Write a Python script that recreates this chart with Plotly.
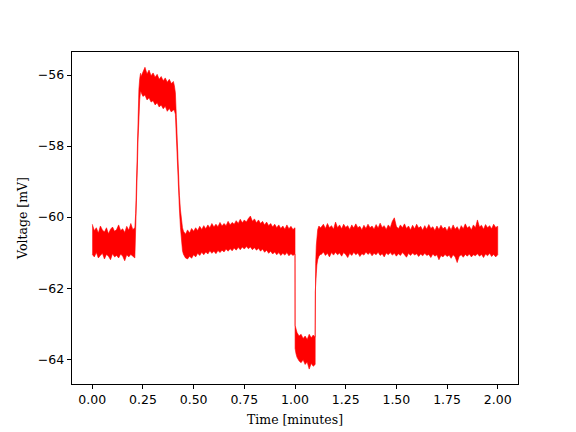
import plotly.graph_objects as go

# ---- data (envelope of the noisy voltage trace, mV) ----
# Segment 1: baseline before the depolarising step, sampled every 0.01 min from 0.00
seg1_t0, seg1_dt = 0.00, 0.01
seg1_up = [-60.20, -60.38, -60.30, -60.45, -60.25, -60.36, -60.42, -60.30, -60.47, -60.34, -60.28,
           -60.40, -60.35, -60.22, -60.38, -60.33, -60.43, -60.26, -60.37, -60.18, -60.35, -60.30]
seg1_lo = [-61.05, -61.12, -61.00, -61.15, -61.08, -61.02, -61.18, -61.05, -61.10, -61.20, -61.03,
           -61.12, -61.08, -61.15, -61.04, -61.10, -61.23, -61.06, -61.12, -61.05, -61.10, -61.15]

# Rise
rise_t = [0.214, 0.218, 0.222, 0.226, 0.230, 0.234, 0.238]
rise_up = [-59.90, -58.90, -57.90, -57.00, -56.40, -56.10, -55.95]
rise_lo = [-60.90, -59.80, -58.70, -57.80, -57.10, -56.70, -56.45]

# Plateau, every 0.01 from 0.24
plat_t0, plat_dt = 0.24, 0.01
plat_up = [-56.05, -55.92, -55.78, -55.97, -55.86, -56.02, -55.94, -56.06, -55.98, -56.12, -56.04,
           -56.16, -56.08, -56.20, -56.12, -56.24, -56.18]
plat_lo = [-56.48, -56.60, -56.56, -56.70, -56.64, -56.76, -56.72, -56.84, -56.78, -56.90, -56.84,
           -56.95, -56.88, -57.02, -56.94, -57.04, -56.98]

# Fall
fall_t = [0.405, 0.410, 0.415, 0.420, 0.425, 0.430, 0.435, 0.440, 0.445, 0.450]
fall_up = [-56.30, -56.50, -57.20, -58.00, -58.80, -59.40, -59.80, -60.10, -60.30, -60.40]
fall_lo = [-57.00, -57.10, -57.70, -58.50, -59.20, -59.80, -60.30, -60.70, -60.95, -61.05]

# Segment 2: baseline, every 0.01 from 0.46 to 1.00
seg2_t0, seg2_dt = 0.46, 0.01
seg2_up = [-60.48, -60.36, -60.45, -60.32, -60.40, -60.30, -60.38, -60.26, -60.35, -60.24,
           -60.33, -60.22, -60.30, -60.18, -60.28, -60.20, -60.27, -60.15, -60.25, -60.18,
           -60.24, -60.12, -60.22, -60.15, -60.20, -60.10, -60.18, -60.06, -60.16, -60.08,
           -60.14, -60.04, -59.97, -60.12, -60.05, -60.16, -60.08, -60.18, -60.12, -60.22,
           -60.14, -60.24, -60.18, -60.28, -60.20, -60.30, -60.22, -60.32, -60.25, -60.34,
           -60.22, -60.33, -60.26, -60.35, -60.30]
seg2_lo = [-61.15, -61.18, -61.10, -61.16, -61.06, -61.12, -61.02, -61.08, -60.99, -61.06,
           -60.98, -61.04, -60.95, -61.02, -60.96, -61.03, -60.94, -61.00, -60.93, -60.98,
           -60.90, -60.96, -60.89, -60.95, -60.87, -60.93, -60.85, -60.92, -60.84, -60.90,
           -60.83, -60.89, -60.84, -60.92, -60.86, -60.93, -60.88, -60.96, -60.90, -60.99,
           -60.93, -61.02, -60.96, -61.04, -60.98, -61.06, -61.00, -61.08, -61.02, -61.07,
           -61.00, -61.09, -61.03, -61.08, -61.04]

# Hyperpolarising trough
trough_t = [1.0005, 1.005, 1.010, 1.020, 1.030, 1.040, 1.050, 1.060, 1.070, 1.080, 1.090, 1.0995]
trough_up = [-63.05, -63.15, -63.25, -63.35, -63.30, -63.42, -63.35, -63.45, -63.30, -63.40, -63.32, -63.38]
trough_lo = [-63.70, -63.85, -63.95, -64.05, -64.10, -64.02, -64.15, -64.08, -64.28, -64.12, -64.20, -64.15]

# Recovery
rec_t = [1.1000, 1.102, 1.105, 1.108, 1.112, 1.118, 1.125]
rec_up = [-61.90, -61.30, -60.80, -60.50, -60.35, -60.25, -60.30]
rec_lo = [-62.10, -61.90, -61.60, -61.35, -61.20, -61.10, -61.05]

# Segment 3: baseline, every 0.01 from 1.13 to 2.00
seg3_t0, seg3_dt = 1.13, 0.01
seg3_up = [-60.28, -60.20, -60.32, -60.18, -60.30, -60.24, -60.34, -60.14, -60.30, -60.22,
           -60.33, -60.20, -60.29, -60.24, -60.35, -60.22, -60.31, -60.19, -60.30, -60.26,
           -60.36, -60.23, -60.32, -60.20, -60.30, -60.25, -60.34, -60.21, -60.31, -60.17,
           -60.29, -60.24, -60.35, -60.22, -60.30, -60.12, -60.02, -60.26, -60.33, -60.22,
           -60.30, -60.19, -60.32, -60.25, -60.36, -60.23, -60.33, -60.20, -60.31, -60.26,
           -60.37, -60.24, -60.34, -60.21, -60.32, -60.27, -60.38, -60.25, -60.35, -60.23,
           -60.33, -60.28, -60.39, -60.26, -60.36, -60.22, -60.34, -60.27, -60.38, -60.24,
           -60.33, -60.19, -60.31, -60.26, -60.36, -60.22, -60.30, -60.08, -60.28, -60.23,
           -60.34, -60.21, -60.30, -60.24, -60.33, -60.20, -60.29, -60.26]
seg3_lo = [-61.05, -60.98, -61.08, -61.02, -61.12, -61.00, -61.07, -60.99, -61.06, -61.01,
           -61.10, -61.00, -61.05, -61.14, -61.02, -61.08, -60.99, -61.06, -61.01, -61.11,
           -61.03, -61.07, -60.98, -61.05, -61.00, -61.09, -61.02, -61.06, -60.99, -61.08,
           -61.03, -61.12, -61.01, -61.06, -61.00, -61.07, -61.02, -61.10, -61.03, -61.08,
           -61.00, -61.06, -61.13, -61.02, -61.08, -61.01, -61.07, -61.03, -61.11, -61.04,
           -61.09, -61.02, -61.08, -61.05, -61.14, -61.04, -61.10, -61.06, -61.20, -61.08,
           -61.12, -61.05, -61.11, -61.07, -61.16, -61.06, -61.12, -61.28, -61.10, -61.06,
           -61.13, -61.05, -61.10, -61.04, -61.12, -61.06, -61.09, -61.03, -61.10, -61.05,
           -61.14, -61.04, -61.09, -61.02, -61.11, -61.05, -61.12, -61.06]

x_tick_vals = [0.00, 0.25, 0.50, 0.75, 1.00, 1.25, 1.50, 1.75, 2.00]
x_tick_text = ["0.00", "0.25", "0.50", "0.75", "1.00", "1.25", "1.50", "1.75", "2.00"]
y_tick_vals = [-64, -62, -60, -58, -56]
y_tick_text = ["\u221264", "\u221262", "\u221260", "\u221258", "\u221256"]


def sampled(t0, dt, vals):
    return [round(t0 + i * dt, 4) for i in range(len(vals))]


t_all = (sampled(seg1_t0, seg1_dt, seg1_up) + rise_t + sampled(plat_t0, plat_dt, plat_up) + fall_t
         + sampled(seg2_t0, seg2_dt, seg2_up) + trough_t + rec_t + sampled(seg3_t0, seg3_dt, seg3_up))
up_all = seg1_up + rise_up + plat_up + fall_up + seg2_up + trough_up + rec_up + seg3_up
lo_all = seg1_lo + rise_lo + plat_lo + fall_lo + seg2_lo + trough_lo + rec_lo + seg3_lo

poly_x = t_all + t_all[::-1]
poly_y = up_all + lo_all[::-1]

fig = go.Figure()
fig.add_trace(go.Scatter(x=poly_x, y=poly_y, mode="lines", fill="toself",
                         fillcolor="#ff0000", line=dict(color="#ff0000", width=0.6),
                         hoverinfo="skip", showlegend=False))

tick_font = dict(family="DejaVu Sans", size=12.5, color="black")
title_font = dict(family="DejaVu Serif", size=12.5, color="black")
axis_common = dict(showline=True, mirror=True, linecolor="black", linewidth=1,
                   ticks="outside", ticklen=4.4, tickwidth=1, tickcolor="black",
                   showgrid=False, zeroline=False, tickfont=tick_font, automargin=False)

fig.update_layout(
    width=576, height=432,
    margin=dict(l=72, r=57.6, t=51.84, b=47.52),
    paper_bgcolor="white", plot_bgcolor="white",
    xaxis=dict(range=[-0.1, 2.1], tickvals=x_tick_vals, ticktext=x_tick_text,
               title=dict(text="Time [minutes]", font=title_font, standoff=8), **axis_common),
    yaxis=dict(range=[-64.70, -55.35], tickvals=y_tick_vals, ticktext=y_tick_text,
               title=dict(text="Voltage [mV]", font=title_font, standoff=7), **axis_common),
)

fig.write_html("out.html", config={"displayModeBar": False},
               post_script="document.body.style.margin='0';")
